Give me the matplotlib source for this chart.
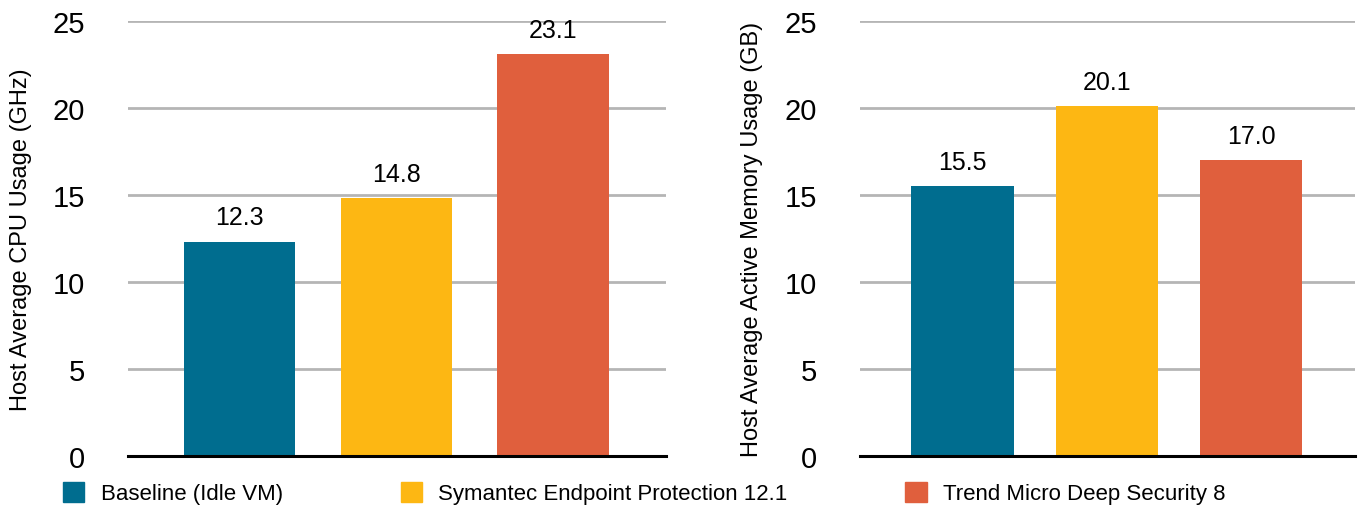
import matplotlib.pyplot as plt
from matplotlib.patches import Patch

systems = ['Baseline (Idle VM)', 'Symantec Endpoint Protection 12.1',
           'Trend Micro Deep Security 8']
cpu_ghz = [12.3, 14.8, 23.1]
mem_gb = [15.5, 20.1, 17.0]
yticks = [0, 5, 10, 15, 20, 25]
colors = ['#006d8f', '#fdb713', '#e05f3d']

narrow = ['Liberation Sans Narrow', 'Liberation Sans', 'DejaVu Sans']
regular = ['Liberation Sans', 'DejaVu Sans']

fig = plt.figure(figsize=(13.65, 5.1), dpi=100)
ax1 = fig.add_axes([128/1365, 53/510, 538/1365, 435/510])
ax2 = fig.add_axes([860/1365, 53/510, 495/1365, 435/510])


def draw(ax, vals, ylabel):
    x = range(len(vals))
    bars = ax.bar(x, vals, width=0.71, color=colors, zorder=2)
    for b, v in zip(bars, vals):
        ax.annotate(f'{v:.1f}', (b.get_x() + b.get_width()/2, v),
                    xytext=(0, 9), textcoords='offset points',
                    ha='center', va='bottom', fontsize=18, family=narrow)
    ax.set_xlim(-0.71, 2.72)
    ax.set_ylim(0, 25)
    ax.set_yticks(yticks)
    ax.set_xticks([])
    ax.yaxis.grid(True, color='#b5b5b5', linewidth=2, zorder=0)
    ax.set_axisbelow(True)
    for s in ['top', 'right', 'left']:
        ax.spines[s].set_visible(False)
    ax.spines['bottom'].set_linewidth(2.2)
    ax.spines['bottom'].set_zorder(3)
    ax.tick_params(axis='y', length=0, pad=31, labelsize=21)
    for t in ax.get_yticklabels():
        t.set_family(narrow)
    ax.set_ylabel(ylabel, fontsize=17, family=regular)


draw(ax1, cpu_ghz, 'Host Average CPU Usage (GHz)')
draw(ax2, mem_gb, 'Host Average Active Memory Usage (GB)')
ax1.yaxis.set_label_coords(-96/538, 0.5)
ax2.yaxis.set_label_coords(-97/495, 0.5)

handles = [Patch(color=c) for c in colors]
fig.legend(handles, systems, ncol=3, loc='center left',
           bbox_to_anchor=(63/1365, 16/510), frameon=False,
           borderpad=0, borderaxespad=0, handlelength=0.95,
           handleheight=1.0, handletextpad=0.75, columnspacing=5.3,
           prop={'family': narrow, 'size': 16})

fig.savefig('out.png', dpi=100)
